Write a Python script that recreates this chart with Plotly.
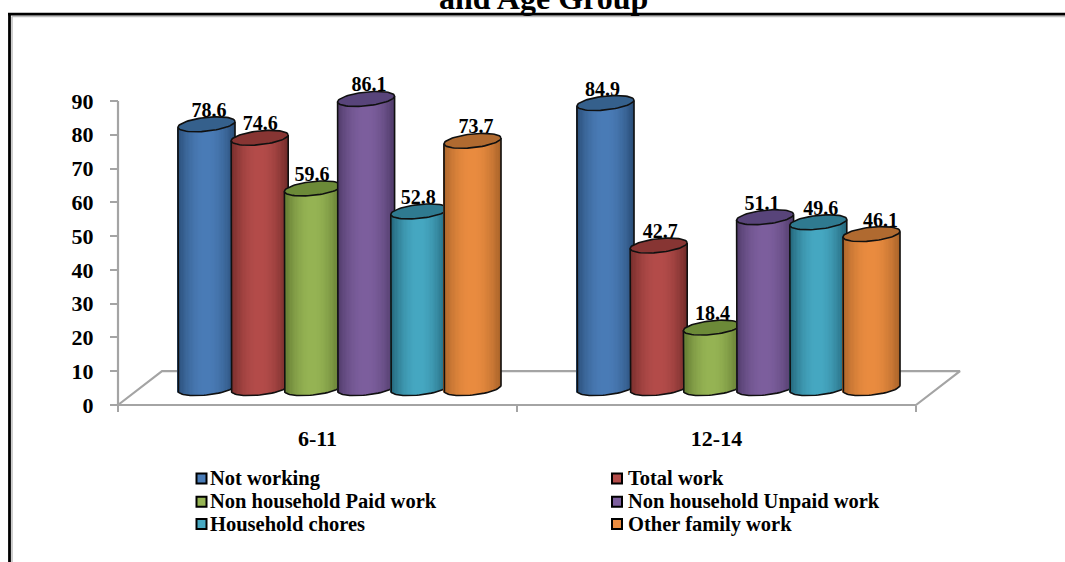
import numpy as np
import plotly.graph_objects as go

# Chart data
age_groups = ["6-11", "12-14"]
series_names = [
    "Not working",
    "Total work",
    "Non household Paid work",
    "Non household Unpaid work",
    "Household chores",
    "Other family work",
]
not_working = [78.6, 84.9]
total_work = [74.6, 42.7]
paid_work = [59.6, 18.4]
unpaid_work = [86.1, 51.1]
chores = [52.8, 49.6]
family_work = [73.7, 46.1]
series_values = [not_working, total_work, paid_work, unpaid_work, chores, family_work]
y_ticks = list(range(0, 100, 10))

# Colours per series: lit centre, shaded edge, top cap
centre_rgb = [(74, 124, 183), (180, 76, 74), (150, 180, 84), (125, 95, 158), (70, 168, 194), (234, 140, 64)]
edge_rgb = [(42, 78, 120), (115, 44, 42), (95, 118, 48), (78, 58, 104), (34, 98, 118), (170, 100, 42)]
cap_rgb = ["#35608C", "#873533", "#6C8A38", "#58447A", "#2F7A90", "#B06A30"]

# Small horizontal corrections for the value labels, in pixels
label_nudge = [[2.5, -3], [0.5, 1.5], [-1, 0.5], [3, -3], [-1, 2.5], [3.5, 9]]

FONT = "Liberation Serif"
GRAY = "#A4A4A4"
WIDTH, HEIGHT = 1065, 562

# Pixel positions of the value axis and category axis
X0_PX, X2_PX, Y90_PX, Y0_PX = 118, 916, 101, 405
# The subplot is larger than the axes so columns and the key are never clipped
PLOT_L, PLOT_R, PLOT_T, PLOT_B = 100, 1000, 60, 540

px_per_x = (X2_PX - X0_PX) / 2
px_per_y = (Y0_PX - Y90_PX) / 90


def data_x(px):
    return (px - X0_PX) / px_per_x


def data_y(px):
    return (Y0_PX - px) / px_per_y


def paper_x(px):
    return (px - PLOT_L) / (PLOT_R - PLOT_L)


def paper_y(px):
    return (PLOT_B - px) / (PLOT_B - PLOT_T)


# Pseudo-3D cylinder geometry in axis units
first_offset = 0.2218
step = 53.2 / px_per_x
half_w = 28.5 / px_per_x
ell_b = 6.9 / px_per_y
ell_k = 2.9 / px_per_y
top_lift = 4.5
base_lift = 5.0
floor_dx = 44 / px_per_x
floor_dy = 10
STRIPS = 44

fig = go.Figure()

# Value axis rule and plot floor, behind the columns
fig.add_trace(go.Scatter(
    x=[0, 0, 2, 2 + floor_dx, floor_dx, 0],
    y=[90, 0, 0, floor_dy, floor_dy, 0],
    mode="lines", line=dict(color=GRAY, width=2.2),
    showlegend=False, hoverinfo="skip", zorder=1,
))

u = (np.arange(STRIPS) + 0.5) / STRIPS * 2 - 1
t_ring = np.linspace(0, 2 * np.pi, 73)
t_front = np.linspace(np.pi, 0, 37)

for s, (name, values) in enumerate(zip(series_names, series_values)):
    shade = 1 - np.abs(u) ** 2.0
    strip_colors = [
        "rgb(%d,%d,%d)" % tuple(e + (c - e) * w for c, e in zip(centre_rgb[s], edge_rgb[s]))
        for w in shade
    ]
    bx, bbase, bheight, bcolor = [], [], [], []
    label_x, label_y, label_text = [], [], []
    zo = 10 * (s + 1)
    for g, v in enumerate(values):
        cx = g + first_offset + step * s
        top = v + top_lift
        front = ell_b * np.sqrt(1 - u ** 2)
        tilt = ell_k * u
        bx.extend((cx + u * half_w).tolist())
        bbase.extend((base_lift - front + tilt).tolist())
        bheight.extend(((top - front + tilt) - (base_lift - front + tilt)).tolist())
        bcolor.extend(strip_colors)
        label_x.append(cx + label_nudge[s][g] / px_per_x)
        label_y.append(top + 12.5 / px_per_y)
        label_text.append(f"{v:.1f}")

    # Column body: narrow vertical strips carrying the shading
    fig.add_trace(go.Bar(
        x=bx, y=bheight, base=bbase,
        width=2 * half_w / STRIPS * 1.25,
        marker=dict(color=bcolor, line=dict(width=0)),
        showlegend=False, hoverinfo="skip", zorder=zo,
    ))

    # Column outline, then the value label and the top cap of each column
    ox, oy, cap_x, cap_y = [], [], [], []
    for g, v in enumerate(values):
        cx = g + first_offset + step * s
        top = v + top_lift
        cos_f, sin_f = np.cos(t_front), np.sin(t_front)
        ox += [cx - half_w, *(cx + half_w * cos_f), cx + half_w, None]
        oy += [top - ell_k, *(base_lift - ell_b * sin_f + ell_k * cos_f), top + ell_k, None]
        cap_x += [*(cx + half_w * np.cos(t_ring)), None]
        cap_y += [*(top + ell_b * np.sin(t_ring) + ell_k * np.cos(t_ring)), None]

    fig.add_trace(go.Scatter(
        x=ox, y=oy, mode="lines", line=dict(color="#101010", width=1.6),
        showlegend=False, hoverinfo="skip", zorder=zo + 1,
    ))
    fig.add_trace(go.Scatter(
        x=label_x, y=label_y, text=label_text, mode="text",
        textposition="middle center",
        textfont=dict(family=FONT, size=20, color="black", weight=700),
        showlegend=False, hoverinfo="skip", zorder=zo + 2,
    ))
    fig.add_trace(go.Scatter(
        x=cap_x, y=cap_y, mode="lines", fill="toself", fillcolor=cap_rgb[s],
        line=dict(color="#101010", width=1.6),
        showlegend=False, hoverinfo="skip", zorder=zo + 3,
    ))

# Key below the plot: two columns, three rows
key_marker_cols = [201.5, 617]
key_text_cols = [210, 628]
key_rows = [478.5, 501.7, 524]
for s, name in enumerate(series_names):
    col, ky = s % 2, key_rows[s // 2]
    fig.add_trace(go.Scatter(
        x=[data_x(key_marker_cols[col])], y=[data_y(ky)], mode="markers", name=name,
        marker=dict(symbol="square", size=10, color=f"rgb{centre_rgb[s]}",
                    line=dict(color="black", width=2)),
        showlegend=False, hoverinfo="skip", zorder=200,
    ))
    fig.add_trace(go.Scatter(
        x=[data_x(key_text_cols[col])], y=[data_y(ky + 1.5)], mode="text",
        text=[name], textposition="middle right",
        textfont=dict(family=FONT, size=20.5, color="black", weight=700),
        showlegend=False, hoverinfo="skip", zorder=200,
    ))

# Page frame: heavy black rule with a faint gray inner line
frame = []
for x0, y0, x1, y1, color, w in [
    (12, HEIGHT, 12, 16.5, "#BEBEBE", 1.5),
    (12, 16.5, WIDTH, 16.5, "#BEBEBE", 1.5),
    (9.5, HEIGHT, 9.5, 14.2, "black", 2.8),
    (8, 14.2, WIDTH, 14.2, "black", 2.8),
]:
    frame.append(dict(type="line", xref="paper", yref="paper",
                      x0=paper_x(x0), y0=paper_y(y0), x1=paper_x(x1), y1=paper_y(y1),
                      line=dict(color=color, width=w), layer="below"))

fig.update_layout(
    width=WIDTH, height=HEIGHT,
    margin=dict(l=PLOT_L, r=WIDTH - PLOT_R, t=PLOT_T, b=HEIGHT - PLOT_B, pad=0),
    paper_bgcolor="white", plot_bgcolor="rgba(0,0,0,0)",
    barmode="overlay", showlegend=False, shapes=frame,
    xaxis=dict(
        range=[data_x(PLOT_L), data_x(PLOT_R)],
        anchor="free", position=paper_y(Y0_PX),
        tickvals=[0.5, 1.5], ticktext=age_groups, ticks="",
        showgrid=False, zeroline=False, showline=False,
        tickfont=dict(family=FONT, size=22, color="black", weight=700),
        ticklabelstandoff=18,
        minor=dict(tickvals=[0, 1, 2], ticks="outside", ticklen=6, tickwidth=2, tickcolor=GRAY),
    ),
    yaxis=dict(
        range=[data_y(PLOT_B), data_y(PLOT_T)],
        anchor="free", position=paper_x(X0_PX),
        tickvals=y_ticks, ticks="outside", ticklen=8, tickwidth=2,
        tickcolor=GRAY, showgrid=False, zeroline=False, showline=False,
        ticklabelstandoff=12,
        tickfont=dict(family=FONT, size=22, color="black", weight=700),
    ),
    annotations=[dict(
        text="and Age Group", xref="paper", yref="paper",
        x=paper_x(543), y=paper_y(-2), xanchor="center", yanchor="middle", showarrow=False,
        font=dict(family=FONT, size=32, color="black", weight=700),
    )],
)

fig.write_html("out.html")
